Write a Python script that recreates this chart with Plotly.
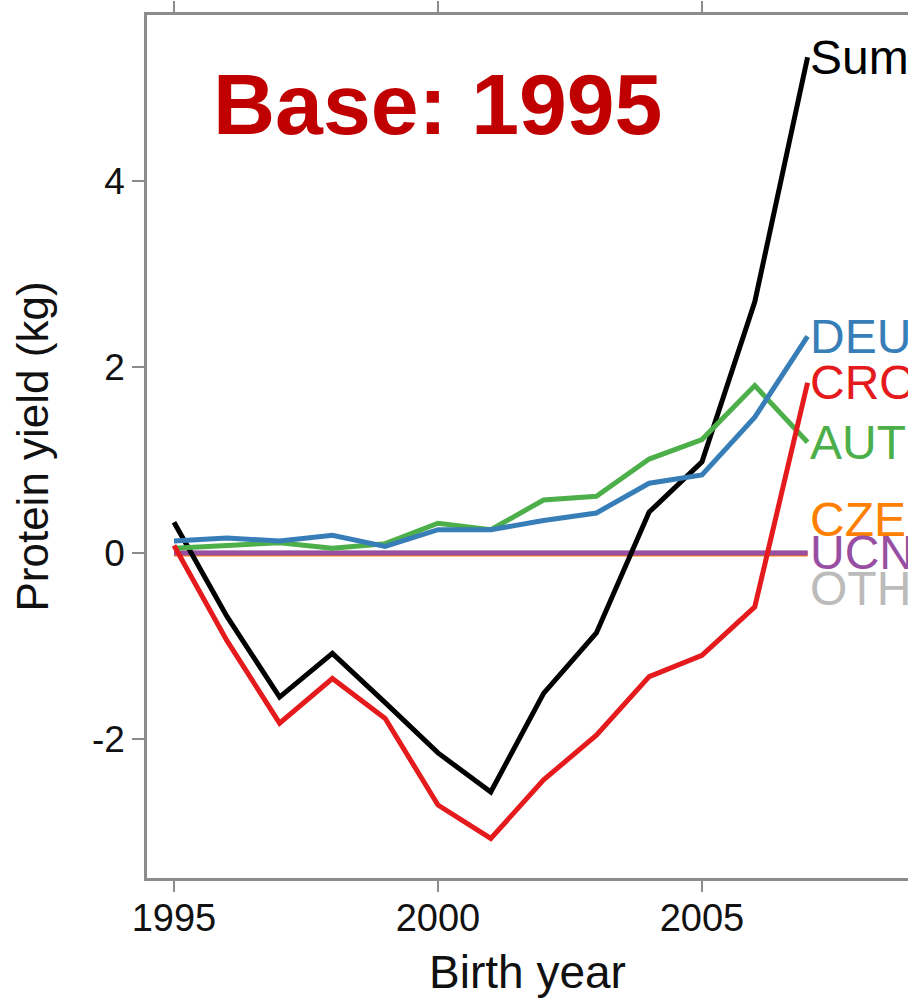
import plotly.graph_objects as go

years = list(range(1995, 2008))

sum_vals = [0.33, -0.68, -1.55, -1.08, -1.61, -2.15, -2.57, -1.51, -0.86, 0.44, 0.98, 2.70, 5.33]
cro_vals = [0.08, -0.94, -1.83, -1.35, -1.78, -2.71, -3.07, -2.44, -1.96, -1.33, -1.10, -0.58, 1.83]
deu_vals = [0.13, 0.16, 0.13, 0.19, 0.07, 0.25, 0.25, 0.35, 0.43, 0.75, 0.84, 1.46, 2.33]
aut_vals = [0.05, 0.08, 0.11, 0.05, 0.10, 0.32, 0.25, 0.57, 0.61, 1.01, 1.22, 1.80, 1.19]
cze_vals = [-0.01, -0.01, -0.01, -0.01, -0.01, -0.01, -0.01, -0.01, -0.01, -0.01, -0.01, -0.01, -0.01]
ucn_vals = [0.00, 0.00, 0.00, 0.00, 0.00, 0.00, 0.00, 0.01, 0.01, 0.00, 0.00, 0.00, 0.00]
oth_vals = [0.00, 0.00, 0.00, 0.00, 0.00, 0.00, 0.00, 0.00, 0.00, 0.00, 0.00, 0.00, 0.00]

x_ticks = [1995, 2000, 2005]
y_ticks = [-2, 0, 2, 4]

series = [
    ("OTH", oth_vals, "#BBBBBB"),
    ("CZE", cze_vals, "#FF7F00"),
    ("UCN", ucn_vals, "#984EA3"),
    ("Sum", sum_vals, "#000000"),
    ("AUT", aut_vals, "#4DAF4A"),
    ("CRO", cro_vals, "#E41A1C"),
    ("DEU", deu_vals, "#377EB8"),
]

# label vertical nudges (to avoid overlap), in data units
label_nudge = {"OTH": -0.38, "CZE": 0.37, "UCN": 0.0, "Sum": 0.0,
               "AUT": 0.0, "CRO": 0.0, "DEU": 0.0}

FONT = "Liberation Sans, Arial, sans-serif"

fig = go.Figure()
for name, vals, col in series:
    fig.add_trace(go.Scatter(x=years, y=vals, mode="lines", name=name,
                             line=dict(color=col, width=5), showlegend=False))
    fig.add_annotation(x=years[-1], y=vals[-1] + label_nudge[name], xref="x", yref="y",
                       text=name, showarrow=False, xanchor="left", yanchor="middle",
                       xshift=0, font=dict(size=48, color=col, family=FONT))

fig.add_annotation(xref="paper", yref="paper", x=(211 - 147) / 761, y=0.897,
                   text="<b>Base: 1995</b>", showarrow=False, xanchor="left", yanchor="middle",
                   font=dict(size=86, color="#C00000", family=FONT))

axis_col = "#8C8C8C"
fig.update_layout(
    width=908, height=1001,
    margin=dict(l=147, r=0, t=15, b=123),
    plot_bgcolor="white", paper_bgcolor="white",
    font=dict(family=FONT, color="#111111"),
    xaxis=dict(range=[1994.489, 2008.902], tickvals=x_ticks, ticktext=[str(v) for v in x_ticks],
               showgrid=False, zeroline=False, showline=True, linecolor=axis_col, linewidth=2.5,
               ticks="outside", ticklen=11, tickwidth=1.5, tickcolor=axis_col, mirror="allticks",
               ticklabelstandoff=-6,
               tickfont=dict(size=38, color="#111111"),
               title=dict(text="Birth year", font=dict(size=46, color="#111111"), standoff=18)),
    yaxis=dict(range=[-3.495, 5.785], tickvals=y_ticks, ticktext=[str(v) for v in y_ticks],
               showgrid=False, zeroline=False, showline=True, linecolor=axis_col, linewidth=2.5,
               ticks="outside", ticklen=12, tickwidth=1.5, tickcolor=axis_col,
               tickfont=dict(size=37, color="#111111"),
               title=dict(text="Protein yield (kg)", font=dict(size=44, color="#111111"), standoff=30)),
)

fig.write_html("out.html", config={"displayModeBar": False},
               post_script="document.body.style.margin='0';document.body.style.overflow='hidden';")
